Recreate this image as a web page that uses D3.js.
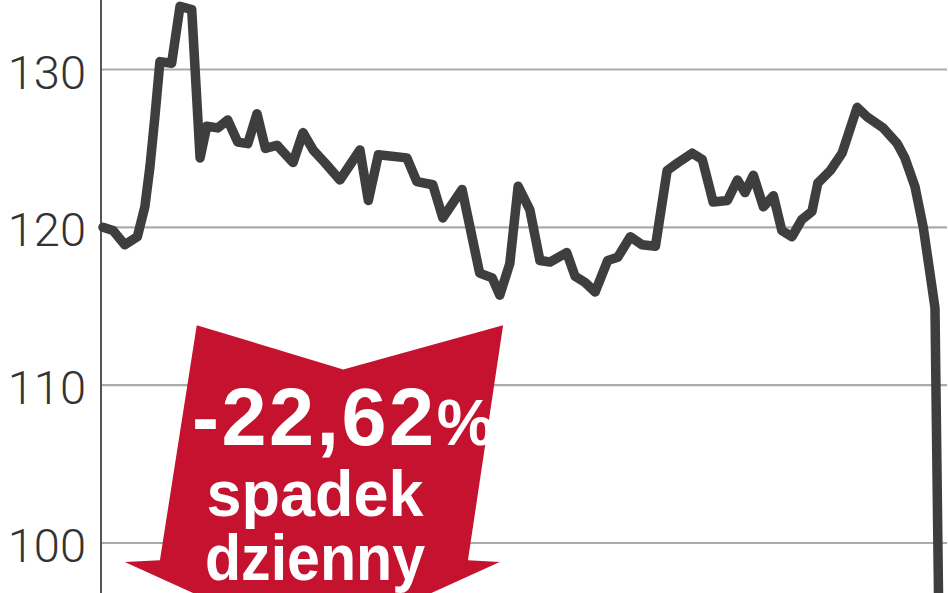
<!DOCTYPE html>
<html><head><meta charset="utf-8">
<script src="https://cdn.jsdelivr.net/npm/d3@7"></script>
<style>html,body{margin:0;padding:0;background:#fff;overflow:hidden}</style>
</head><body><svg id="c" width="948" height="593"></svg>
<script>
// session index (trading days) and index value
const days = [0,1.2,2.6,4.1,5.0,5.6,6.2,6.8,8.2,9.2,10.6,11.6,12.4,13.7,14.9,16.1,17.3,18.4,19.4,20.8,22.7,23.9,25.1,26.5,28.3,30.7,31.7,32.9,36.3,37.5,39.4,40.6,42.9,45.0,46.5,47.4,48.6,49.6,51.0,52.2,53.4,55.4,56.4,57.6,58.8,60.3,61.5,63.0,64.4,66.0,67.4,68.7,70.4,71.6,72.9,74.6,75.8,76.7,77.7,78.9,80.1,81.1,82.3,83.5,84.7,85.4,86.9,88.3,90.1,91.3,93.2,94.9,95.8,97.0,98.0,98.8,99.4,100];
const values = [120.0,119.8,118.9,119.4,121.3,123.8,127.0,130.5,130.4,134.0,133.8,124.4,126.4,126.3,126.8,125.4,125.3,127.2,125.0,125.2,124.1,126.0,124.9,124.1,123.0,124.9,121.7,124.6,124.4,122.9,122.7,120.6,122.4,117.1,116.8,115.7,117.7,122.6,121.1,117.9,117.8,118.4,116.9,116.5,115.9,117.9,118.1,119.4,118.9,118.8,123.6,124.1,124.7,124.3,121.6,121.7,123.0,122.2,123.3,121.3,122.0,119.8,119.4,120.5,121.0,122.8,123.6,124.7,127.6,127.0,126.3,125.3,124.4,122.6,120.0,117.1,114.9,89.0];
const yTicks = [100,110,120,130];
const changeLabel = "-22,62";
const changeUnit = "%";
const captionLines = ["spadek","dzienny"];

const svg = d3.select("#c");
const x = d3.scaleLinear().domain([0,100]).range([103,940]);
const y = d3.scaleLinear().domain([100,130]).range([543,69.5]);

// gridlines
svg.append("g").selectAll("line").data(yTicks).join("line")
  .attr("x1",101).attr("x2",947)
  .attr("y1",d=>y(d)).attr("y2",d=>y(d))
  .attr("stroke","#ababab").attr("stroke-width",2.2);

// tick labels
svg.append("g").selectAll("text").data(yTicks).join("text")
  .attr("x",86).attr("y",d=>y(d)+19)
  .attr("text-anchor","end")
  .attr("font-family","Roboto, 'Open Sans', sans-serif")
  .attr("font-weight",300)
  .attr("font-size",47)
  .attr("fill","#333")
  .text(d=>d);

// vertical axis line
svg.append("line").attr("x1",101).attr("x2",101).attr("y1",0).attr("y2",593)
  .attr("stroke","#555").attr("stroke-width",2);

// red arrow annotation (shape in data space)
const arrowPts = [[11.2,113.8],[28.7,111.0],[47.8,113.8],[43.6,98.9],[47.4,98.8],[25.0,93.4],[2.6,98.8],[6.8,98.9]];
svg.append("path")
  .attr("d", d3.line().x(d=>x(d[0])).y(d=>y(d[1]))(arrowPts) + "Z")
  .attr("fill","#c4122f");

const tg = svg.append("g").attr("fill","#fff")
  .attr("font-family","'Liberation Sans', Arial, sans-serif").attr("font-weight",700);
const t1 = tg.append("text").attr("x",192).attr("y",445).attr("font-size",81).attr("letter-spacing",2.5);
t1.append("tspan").text(changeLabel);
t1.append("tspan").attr("font-size",64).attr("letter-spacing",0).text(changeUnit);
tg.selectAll("text.cap").data(captionLines).join("text").attr("class","cap")
  .attr("x",315).attr("y",(d,i)=>i===0?516:580)
  .attr("text-anchor","middle").attr("font-size",64)
  .attr("textLength",(d,i)=>i===0?217:220).attr("lengthAdjust","spacingAndGlyphs")
  .text(d=>d);

// price line
svg.append("path")
  .datum(days.map((d,i)=>[d,values[i]]))
  .attr("d", d3.line().x(d=>x(d[0])).y(d=>y(d[1])))
  .attr("fill","none").attr("stroke","#3e3e3e").attr("stroke-width",9.5)
  .attr("stroke-linejoin","round").attr("stroke-linecap","round");
</script></body></html>
